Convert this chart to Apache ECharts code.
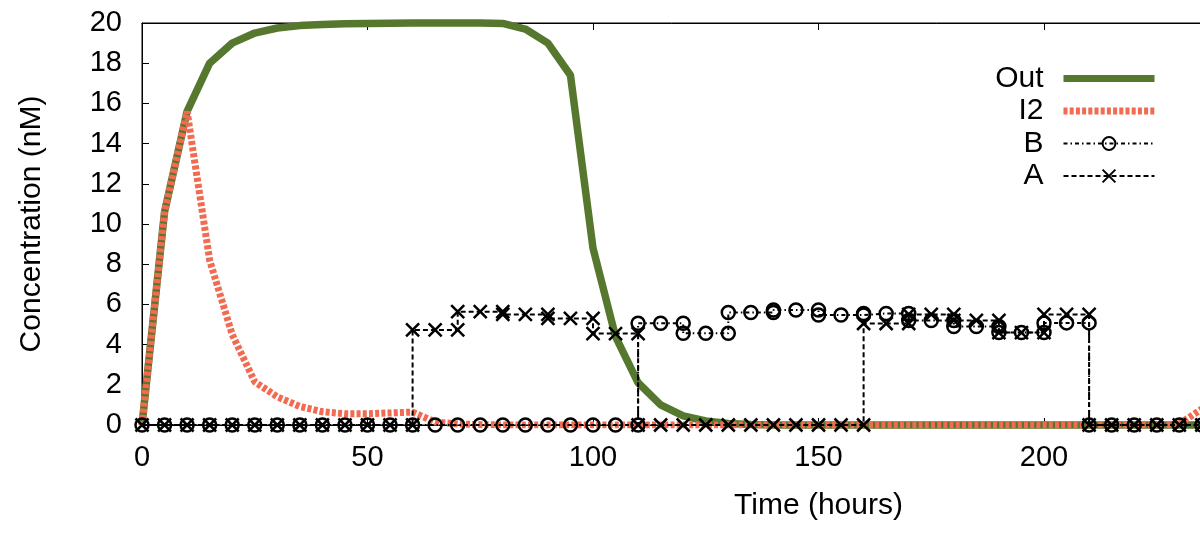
<!DOCTYPE html>
<html>
<head>
<meta charset="utf-8">
<script src="https://cdn.jsdelivr.net/npm/echarts@6/dist/echarts.min.js"></script>
<style>
  html, body { margin: 0; padding: 0; background: #fff; }
  #chart { width: 1200px; height: 538px; }
</style>
</head>
<body>
<div id="chart"></div>
<script>
// sampling times (hours) for Out and I2
var hours = [0, 5, 10, 15, 20, 25, 30, 35, 40, 45, 50, 55, 60, 65, 70, 75, 80, 85, 90, 95,
  100, 105, 110, 115, 120, 125, 130, 135, 140, 145, 150, 155, 160, 165, 170, 175, 180, 185, 190, 195,
  200, 205, 210, 215, 220, 225, 230, 235];
var outConc = [0, 10.6, 15.6, 18.0, 19.0, 19.5, 19.75, 19.87, 19.93, 19.96, 19.98, 19.99, 20, 20, 20, 20, 19.98, 19.7, 19.0, 17.4,
  8.8, 4.4, 2.1, 1.0, 0.45, 0.2, 0.08, 0.03, 0, 0, 0, 0, 0, 0, 0, 0, 0, 0, 0, 0,
  0, 0, 0, 0, 0, 0, 0, 0];
var i2Conc = [0, 10.6, 15.6, 8.2, 4.5, 2.15, 1.4, 0.92, 0.66, 0.56, 0.56, 0.6, 0.64, 0.15, 0.05, 0.02, 0, 0, 0, 0,
  0, 0, 0, 0, 0, 0, 0, 0, 0, 0, 0, 0, 0, 0, 0, 0, 0, 0, 0, 0,
  0, 0, 0, 0, 0, 0, 0.05, 0.8];

// A and B: piecewise runs, boundary times repeated
var aTime = [0, 5, 10, 15, 20, 25, 30, 35, 40, 45, 50, 55, 60,
  60, 65, 70, 70, 75, 80, 80, 85, 90, 90, 95, 100, 100, 105, 110,
  110, 115, 120, 125, 130, 135, 140, 145, 150, 155, 160,
  160, 165, 170, 170, 175, 180, 180, 185, 190, 190, 195, 200, 200, 205, 210,
  210, 215, 220, 225, 230, 235];
var aConc = [0, 0, 0, 0, 0, 0, 0, 0, 0, 0, 0, 0, 0,
  4.73, 4.73, 4.73, 5.64, 5.64, 5.64, 5.5, 5.5, 5.5, 5.3, 5.3, 5.3, 4.55, 4.55, 4.55,
  0, 0, 0, 0, 0, 0, 0, 0, 0, 0, 0,
  5.05, 5.05, 5.05, 5.5, 5.5, 5.5, 5.2, 5.2, 5.2, 4.6, 4.6, 4.6, 5.5, 5.5, 5.5,
  0, 0, 0, 0, 0, 0];
var bTime = [0, 5, 10, 15, 20, 25, 30, 35, 40, 45, 50, 55, 60, 65, 70, 75, 80, 85, 90, 95, 100, 105, 110,
  110, 115, 120, 120, 125, 130, 130, 135, 140, 140, 145, 150, 150, 155, 160,
  160, 165, 170, 170, 175, 180, 180, 185, 190, 190, 195, 200, 200, 205, 210,
  210, 215, 220, 225, 230, 235];
var bConc = [0, 0, 0, 0, 0, 0, 0, 0, 0, 0, 0, 0, 0, 0, 0, 0, 0, 0, 0, 0, 0, 0, 0,
  5.06, 5.06, 5.06, 4.56, 4.56, 4.56, 5.6, 5.6, 5.6, 5.72, 5.72, 5.72, 5.47, 5.47, 5.47,
  5.55, 5.55, 5.55, 5.2, 5.2, 5.2, 4.9, 4.9, 4.9, 4.6, 4.6, 4.6, 5.08, 5.08, 5.08,
  0, 0, 0, 0, 0, 0];

var xTicks = { min: 0, max: 300, step: 50 };
var yTicks = { min: 0, max: 20, step: 2 };

function pairs(xs, ys) {
  var out = [];
  for (var i = 0; i < xs.length; i++) out.push([xs[i], ys[i]]);
  return out;
}

var font = "'Liberation Sans', Arial, sans-serif";
var crossPath = 'path://M0,0L10,10M10,0L0,10';
var noMark = { color: 'rgba(0,0,0,0)', borderWidth: 0 };

var chart = echarts.init(document.getElementById('chart'));
chart.setOption({
  animation: false,
  backgroundColor: '#fff',
  textStyle: { fontFamily: font, color: '#000' },
  grid: {
    left: 142, top: 23, width: 1353, height: 402,
    outerBoundsMode: 'none', containLabel: false,
    show: true, borderColor: '#000', borderWidth: 1, backgroundColor: 'transparent'
  },
  legend: {
    orient: 'vertical', right: 42, top: 63, align: 'right',
    padding: 0, itemWidth: 91, itemHeight: 16, itemGap: 1.5,
    textStyle: { fontFamily: font, fontSize: 30, color: '#000', lineHeight: 31, padding: [0, 15, 0, 0] },
    data: [
      { name: 'Out', lineStyle: { width: 7 }, itemStyle: noMark },
      { name: 'I2', lineStyle: { width: 7 }, itemStyle: noMark },
      { name: 'B', lineStyle: { width: 2 } },
      { name: 'A', lineStyle: { width: 2 } }
    ]
  },
  xAxis: [{
    type: 'value', min: xTicks.min, max: xTicks.max, interval: xTicks.step,
    name: 'Time (hours)', nameLocation: 'middle', nameGap: 66,
    nameTextStyle: { fontFamily: font, fontSize: 30, color: '#000' },
    axisLine: { lineStyle: { color: '#000', width: 1 } },
    axisTick: { inside: true, length: 7, lineStyle: { color: '#000' } },
    axisLabel: { fontFamily: font, fontSize: 29, color: '#000', margin: 18 },
    splitLine: { show: false }
  }, {
    type: 'value', position: 'top', min: xTicks.min, max: xTicks.max, interval: xTicks.step,
    axisLine: { lineStyle: { color: '#000', width: 1 } },
    axisTick: { inside: true, length: 7, lineStyle: { color: '#000' } },
    axisLabel: { show: false },
    splitLine: { show: false }
  }],
  yAxis: {
    type: 'value', min: yTicks.min, max: yTicks.max, interval: yTicks.step,
    name: 'Concentration (nM)', nameLocation: 'middle', nameGap: 95,
    nameTextStyle: { fontFamily: font, fontSize: 30, color: '#000' },
    axisLine: { show: true, lineStyle: { color: '#000', width: 1 } },
    axisTick: { show: true, inside: true, length: 7, lineStyle: { color: '#000' } },
    axisLabel: { fontFamily: font, fontSize: 29, color: '#000', margin: 20 },
    splitLine: { show: false }
  },
  series: [
    {
      name: 'Out', type: 'line', clip: false, symbol: 'none',
      data: pairs(hours, outConc),
      itemStyle: { color: '#55772e' },
      lineStyle: { color: '#55772e', width: 7.5, cap: 'butt' }
    },
    {
      name: 'I2', type: 'line', symbol: 'none',
      data: pairs(hours, i2Conc),
      itemStyle: { color: '#f26a4f' },
      lineStyle: { color: '#f26a4f', width: 7, type: [4, 2.2], cap: 'butt' }
    },
    {
      name: 'B', type: 'line', symbol: 'circle', symbolSize: 13, showAllSymbol: true,
      data: pairs(bTime, bConc),
      itemStyle: { color: 'rgba(0,0,0,0)', borderColor: '#000', borderWidth: 2.5 },
      lineStyle: { color: '#000', width: 2, type: [4, 3, 1.5, 3] }
    },
    {
      name: 'A', type: 'line', symbol: crossPath, symbolSize: 13, showAllSymbol: true,
      data: pairs(aTime, aConc),
      itemStyle: { color: 'rgba(0,0,0,0)', borderColor: '#000', borderWidth: 2.5 },
      lineStyle: { color: '#000', width: 2, type: [5, 3] }
    }
  ]
});
</script>
</body>
</html>
